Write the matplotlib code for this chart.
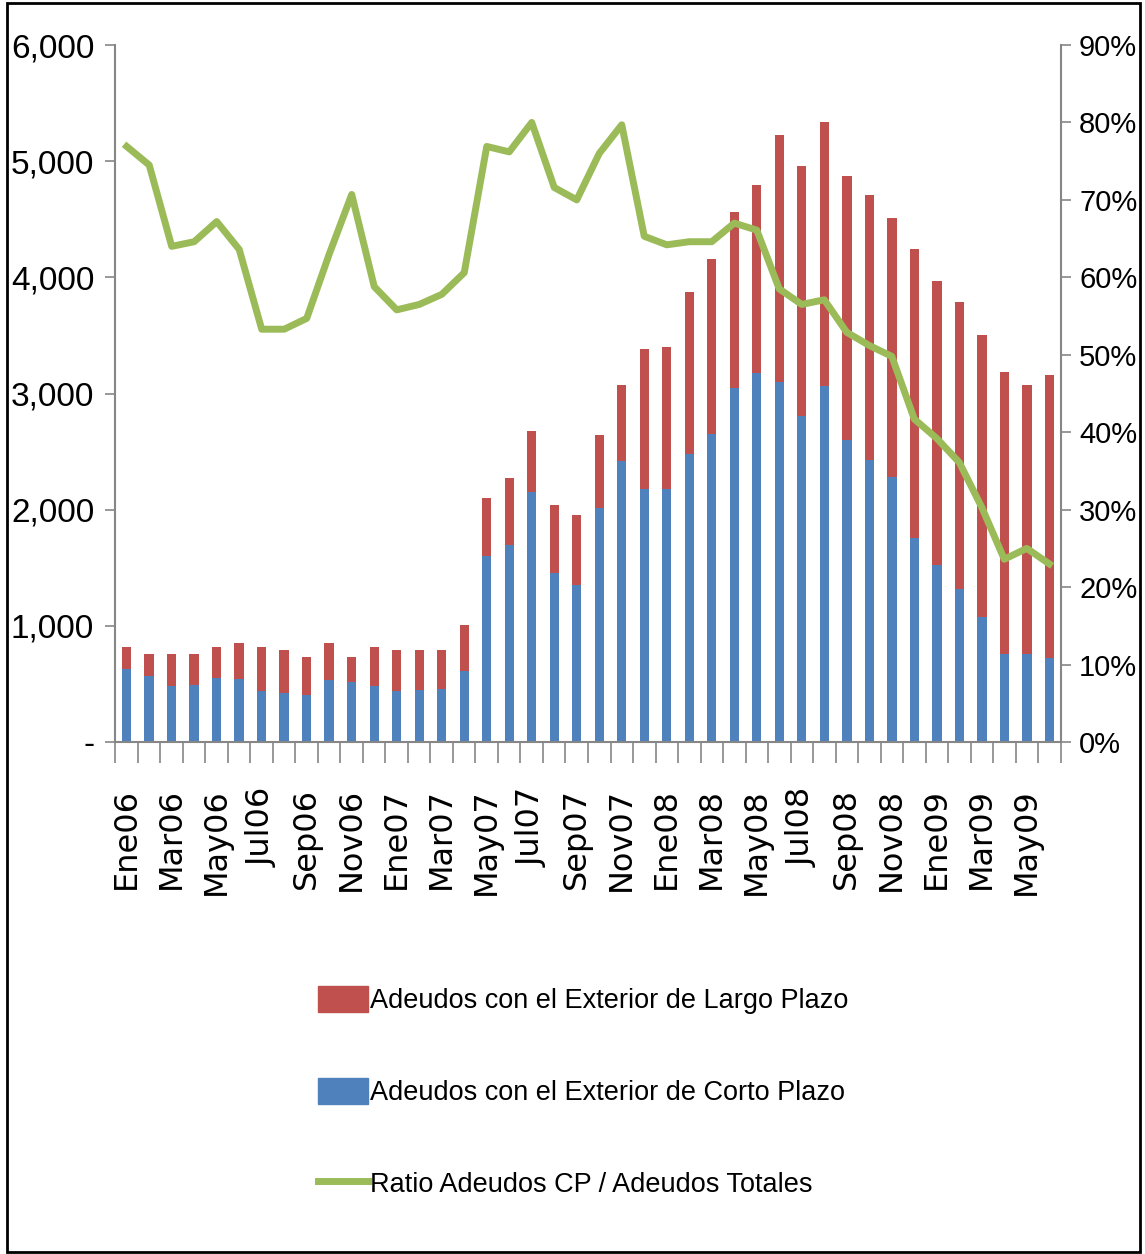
import numpy as np
import matplotlib.pyplot as plt
from matplotlib.patches import Patch, Rectangle
from matplotlib.lines import Line2D
from matplotlib.ticker import FuncFormatter

# Adeudos con el exterior (millones), mensual Ene06 - Jun09
tick_labels = ['Ene06', 'Mar06', 'May06', 'Jul06', 'Sep06', 'Nov06',
               'Ene07', 'Mar07', 'May07', 'Jul07', 'Sep07', 'Nov07',
               'Ene08', 'Mar08', 'May08', 'Jul08', 'Sep08', 'Nov08',
               'Ene09', 'Mar09', 'May09']

corto_plazo = [630, 566, 486, 491, 551, 541, 437, 421, 402, 535, 520, 482,
               441, 446, 457, 612, 1599, 1700, 2150, 1454, 1353, 2018, 2423, 2177,
               2177, 2480, 2654, 3047, 3178, 3103, 2803, 3066, 2597, 2428, 2278, 1752,
               1527, 1321, 1077, 758, 758, 720]

largo_plazo = [190, 194, 274, 269, 269, 309, 383, 369, 333, 315, 215, 338,
               349, 344, 333, 398, 499, 570, 526, 584, 598, 622, 650, 1203,
               1223, 1397, 1507, 1512, 1614, 2120, 2158, 2270, 2277, 2281, 2232, 2496,
               2439, 2469, 2428, 2428, 2315, 2439]

ratio_cp = [76.9, 74.5, 64.0, 64.6, 67.2, 63.6, 53.3, 53.3, 54.7, 63.0, 70.7, 58.8,
            55.8, 56.5, 57.8, 60.6, 76.9, 76.2, 80.0, 71.6, 70.0, 76.0, 79.7, 65.3,
            64.2, 64.6, 64.6, 67.0, 66.1, 58.5, 56.5, 57.1, 52.9, 51.2, 49.8, 41.7,
            39.2, 36.1, 30.3, 23.6, 25.0, 23.0]

azul = '#4F81BD'
rojo = '#C0504D'
verde = '#9BBB59'
gris = '#868686'

narrow = ['Liberation Sans Narrow', 'Liberation Sans', 'DejaVu Sans']

W, H = 1145, 1254
fig = plt.figure(figsize=(W / 100, H / 100), dpi=100)
ax = fig.add_axes([115 / W, 1 - 742 / H, (1061 - 115) / W, (742 - 45) / H])

x = np.arange(len(corto_plazo))
ax.bar(x, corto_plazo, width=0.42, color=azul, zorder=2)
ax.bar(x, largo_plazo, width=0.42, bottom=corto_plazo, color=rojo, zorder=2)

ax.set_xlim(-0.52, len(x) - 0.48)
ax.set_ylim(0, 6000)
ax.set_yticks(np.arange(0, 6001, 1000))
ax.yaxis.set_major_formatter(FuncFormatter(lambda v, p: '-' if v == 0 else f'{v:,.0f}'))

# ticks on category boundaries, labels every two months
ax.set_xticks(np.arange(-0.5, len(x), 1))
ax.set_xticklabels([])
ax.set_xticks(x[::2], minor=True)
ax.set_xticklabels(tick_labels, minor=True, rotation=90, family='DejaVu Sans',
                   fontsize=23)
ax.tick_params(axis='x', which='major', length=15, width=1.2, color=gris, direction='out')
ax.tick_params(axis='x', which='minor', length=0, pad=33)
ax.tick_params(axis='y', length=7, width=1.2, color=gris, pad=8)
for lab in ax.get_yticklabels():
    lab.set_family(narrow)
    lab.set_fontsize(24)

for s in ['top', 'right']:
    ax.spines[s].set_visible(False)
for s in ['left', 'bottom']:
    ax.spines[s].set_color(gris)
    ax.spines[s].set_linewidth(1.5)

ax2 = ax.twinx()
ax2.plot(x, np.array(ratio_cp) / 100, color=verde, lw=5, solid_joinstyle='round', zorder=3)
ax2.set_ylim(0, 0.9)
ax2.set_yticks(np.arange(0, 0.91, 0.1))
ax2.yaxis.set_major_formatter(FuncFormatter(lambda v, p: f'{v * 100:.0f}%'))
ax2.tick_params(axis='y', length=7, width=1.2, color=gris, pad=6)
for lab in ax2.get_yticklabels():
    lab.set_family(narrow)
    lab.set_fontsize(21)
for s in ['top', 'left', 'bottom']:
    ax2.spines[s].set_visible(False)
ax2.spines['right'].set_color(gris)
ax2.spines['right'].set_linewidth(1.5)

handles = [Patch(color=rojo), Patch(color=azul), Line2D([], [], color=verde, lw=5)]
labels = ['Adeudos con el Exterior de Largo Plazo',
          'Adeudos con el Exterior de Corto Plazo',
          'Ratio Adeudos CP / Adeudos Totales']
fig.legend(handles, labels, loc='upper left', bbox_to_anchor=(318 / W, 1 - 986 / H),
           frameon=False, prop={'family': narrow, 'size': 19.5},
           handlelength=1.85, handleheight=1.1, handletextpad=0.08,
           labelspacing=2.35, borderpad=0, borderaxespad=0)

# black frame around the whole picture
fig.patches.append(Rectangle((7 / W, 2 / H), (1140 - 7) / W, (1251 - 2) / H,
                             transform=fig.transFigure, fill=False,
                             edgecolor='black', lw=2))

fig.savefig('out.png', dpi=100)
